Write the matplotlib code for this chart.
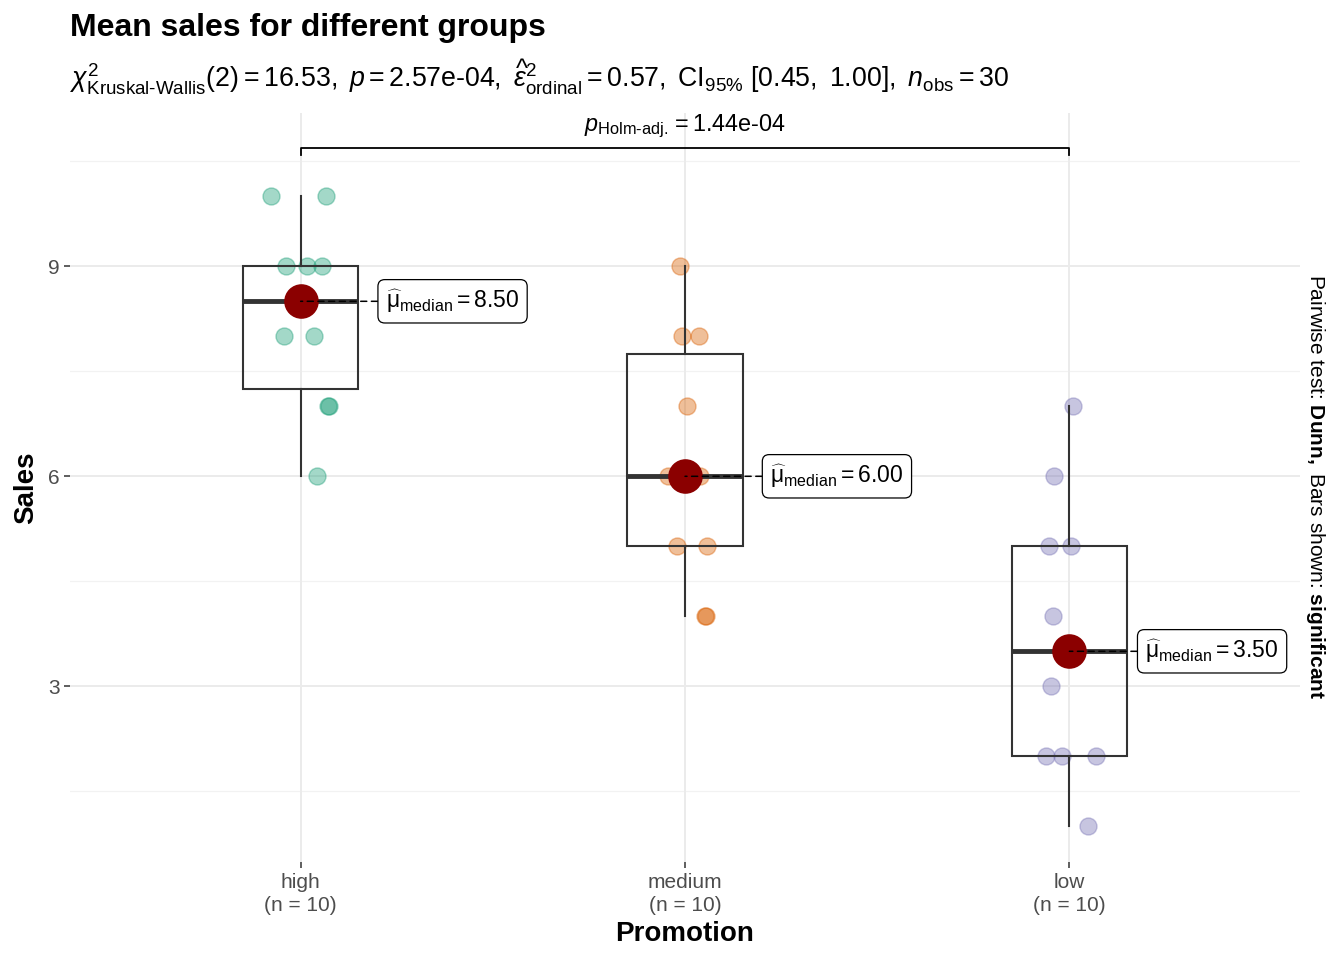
import numpy as np
import matplotlib
matplotlib.use("Agg")
import matplotlib.pyplot as plt

plt.rcParams['font.family'] = ['Liberation Sans', 'DejaVu Sans']
plt.rcParams['mathtext.fontset'] = 'custom'
plt.rcParams['mathtext.rm'] = 'Liberation Sans'
plt.rcParams['mathtext.it'] = 'Liberation Sans:italic'
plt.rcParams['mathtext.bf'] = 'Liberation Sans:bold'

# ---- data ----
groups = ["high", "medium", "low"]
high_sales = [10, 10, 9, 9, 9, 8, 8, 7, 7, 6]
medium_sales = [9, 8, 8, 7, 6, 6, 5, 5, 4, 4]
low_sales = [7, 6, 5, 5, 4, 3, 2, 2, 2, 1]
# horizontal jitter (category units)
high_jitter = [-0.078, 0.065, -0.039, 0.016, 0.055, -0.044, 0.034, 0.070, 0.073, 0.042]
medium_jitter = [-0.013, -0.008, 0.036, 0.005, -0.044, 0.039, -0.021, 0.057, 0.052, 0.055]
low_jitter = [0.010, -0.039, -0.052, 0.003, -0.042, -0.047, -0.062, -0.018, 0.070, 0.049]
colors = ["#1B9E77", "#D95F02", "#7570B3"]

title = "Mean sales for different groups"
subtitle = (r"$\chi^2_{\mathrm{Kruskal\text{-}Wallis}}(2) = 16.53,\ \mathit{p} = 2.57\mathrm{e\text{-}04},\ "
            r"\widehat{\epsilon}^2_{\mathrm{ordinal}} = 0.57,\ \mathrm{CI}_{95\%}\ [0.45,\ 1.00],\ "
            r"\mathit{n}_{\mathrm{obs}} = 30$")
pair_label = r"$\mathit{p}_{\mathrm{Holm\text{-}adj.}} = 1.44\mathrm{e\text{-}04}$"
caption_right = r"Pairwise test: $\mathbf{Dunn,}$ Bars shown: $\mathbf{significant}$"

data = [high_sales, medium_sales, low_sales]
jitters = [high_jitter, medium_jitter, low_jitter]
label_offsets = [0.222, 0.222, 0.198]  # label nudges (repelled near right edge)

fig = plt.figure(figsize=(13.44, 9.6), dpi=100)
ax = fig.add_axes([70/1344, 1 - 862/960, 1230/1344, (862-113)/960])

ax.set_xlim(-0.6, 2.6)
ax.set_ylim(0.49, 11.19)

# grid
for v in [3, 6, 9]:
    ax.axhline(v, color="#EBEBEB", lw=1.4, zorder=0)
for v in [1.5, 4.5, 7.5, 10.5]:
    ax.axhline(v, color="#F2F2F2", lw=0.9, zorder=0)
for i in range(3):
    ax.axvline(i, color="#EBEBEB", lw=1.4, zorder=0)

# points
for i, (vals, jit, c) in enumerate(zip(data, jitters, colors)):
    xs = np.array(jit) + i
    ax.scatter(xs, vals, s=150, facecolor=c, alpha=0.4, edgecolor=c, linewidth=1.0, zorder=2)

# boxplots
ax.boxplot(data, positions=range(3), widths=0.3, showcaps=False, showfliers=False,
           patch_artist=True,
           boxprops=dict(facecolor="none", edgecolor="#333333", linewidth=1.5),
           whiskerprops=dict(color="#333333", linewidth=1.5),
           medianprops=dict(color="#333333", linewidth=3.5),
           zorder=3)

# medians with labels
for i, vals in enumerate(data):
    med = np.median(vals)
    ax.scatter([i], [med], s=620, color="#8B0000", zorder=5, linewidth=0)
    ax.annotate(r"$\widehat{\mathrm{μ}}_{\mathrm{median}} = $" + f"{med:.2f}",
                xy=(i, med), xytext=(i + label_offsets[i], med), textcoords="data",
                ha="left", va="center", fontsize=16.5, zorder=6,
                bbox=dict(boxstyle="round,pad=0.35,rounding_size=0.3", fc="white", ec="black", lw=0.9),
                arrowprops=dict(arrowstyle="-", linestyle=(0, (4, 3)), color="black", lw=1.1,
                                shrinkA=0, shrinkB=0))

# significance bar
ybar = 10.69
ax.plot([0, 0, 2, 2], [ybar - 0.1, ybar, ybar, ybar - 0.1], color="black", lw=1.3, zorder=4,
        clip_on=False)
ax.text(1, ybar + 0.12, pair_label, ha="center", va="bottom", fontsize=16.8)

# axes styling
for sp in ax.spines.values():
    sp.set_visible(False)
ax.set_yticks([3, 6, 9])
ax.set_yticklabels(["3", "6", "9"])
ax.set_xticks(range(3))
ax.set_xticklabels([f"{g}\n(n = {len(d)})" for g, d in zip(groups, data)], linespacing=1.28)
ax.tick_params(axis="both", colors="#333333", labelcolor="#4D4D4D", labelsize=15,
               length=4, width=1.1)
ax.tick_params(axis="x", pad=4)
ax.set_xlabel("Promotion", fontsize=20, fontweight="bold", labelpad=4)
ax.set_ylabel("Sales", fontsize=20, fontweight="bold", labelpad=6)

fig.text(70/1344, 1 - 28/960, title, fontsize=23, fontweight="bold", ha="left", va="center")
fig.text(70/1344, 1 - 77/960, subtitle, fontsize=19.3, ha="left", va="center")
fig.text(1316/1344, 1 - 487/960, caption_right, fontsize=15, rotation=-90,
         ha="center", va="center")

fig.savefig("out.png", dpi=100)
